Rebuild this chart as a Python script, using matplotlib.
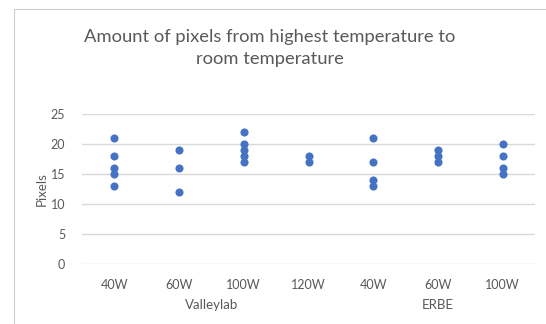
import matplotlib
matplotlib.use("Agg")
import matplotlib.pyplot as plt
from matplotlib.patches import Rectangle
import matplotlib.transforms as mtransforms

# data
categories = ["40W", "60W", "100W", "120W", "40W", "60W", "100W"]
groups = ["Valleylab", "ERBE"]
group_sizes = [4, 3]
pixels = [
    [21, 18, 16, 15, 13],   # Valleylab 40W
    [19, 16, 12],           # Valleylab 60W
    [22, 20, 19, 18, 17],   # Valleylab 100W
    [18, 17],               # Valleylab 120W
    [21, 17, 14, 13],       # ERBE 40W
    [19, 18, 17],           # ERBE 60W
    [20, 18, 16, 15],       # ERBE 100W
]
yticks = [0, 5, 10, 15, 20, 25]

plt.rcParams["font.family"] = ["Lato", "DejaVu Sans"]
text_col = "#595959"
dot_col = "#4472C4"
grid_col = "#D9D9D9"

fig = plt.figure(figsize=(5.46, 3.24), dpi=100)
fig.patch.set_facecolor("white")

# chart border (only top/left visible in the crop)
fig.patches.append(Rectangle((14 / 546, -0.1), 1.2, 1.1 - 9 / 324,
                             transform=fig.transFigure, fill=False,
                             edgecolor="#D0D0D0", linewidth=0.8))

ax = fig.add_axes([82 / 546, 1 - 264 / 324, (535 - 82) / 546, (264 - 114) / 324])

# scatter the points, category i at x = i + 0.5
for i, vals in enumerate(pixels):
    ax.scatter([i + 0.5] * len(vals), vals, s=34, color=dot_col,
               zorder=3, linewidths=0)

ax.set_xlim(0, len(categories))
ax.set_ylim(0, 25)
ax.set_yticks(yticks)
ax.set_yticklabels([str(v) for v in yticks], color=text_col, fontsize=9)
ax.set_xticks([i + 0.5 for i in range(len(categories))])
ax.set_xticklabels(categories, color=text_col, fontsize=9)
ax.tick_params(axis="both", length=0)
ax.tick_params(axis="y", pad=12)
ax.tick_params(axis="x", pad=11)
ax.grid(axis="y", color=grid_col, linewidth=1)
ax.set_axisbelow(True)
for s in ax.spines.values():
    s.set_visible(False)

ax.set_ylabel("Pixels", color=text_col, fontsize=9.5, labelpad=2)

# group labels under the category labels
trans = mtransforms.blended_transform_factory(ax.transData, fig.transFigure)
start = 0
for g, n in zip(groups, group_sizes):
    ax.text(start + n / 2, 1 - 305 / 324, g, transform=trans, ha="center",
            va="center", color=text_col, fontsize=9.5)
    start += n

fig.text(270 / 546, 1 - 48 / 324,
         "Amount of pixels from highest temperature to\nroom temperature",
         ha="center", va="center", color=text_col, fontsize=13.2,
         linespacing=1.5)

fig.savefig("out.png", dpi=100)
